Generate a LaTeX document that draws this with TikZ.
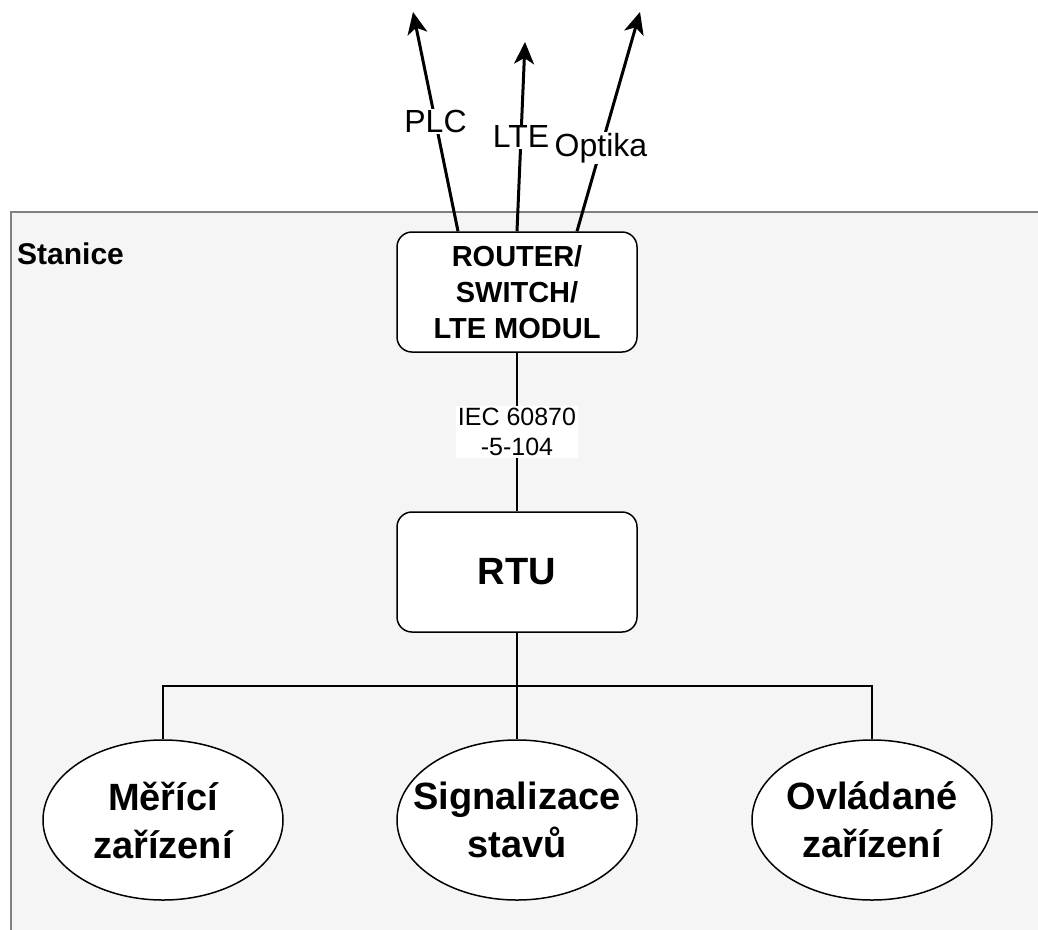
\documentclass[tikz,border=0pt]{standalone}
\usepackage{fontspec}
\setmainfont{Liberation Sans}
\usetikzlibrary{shapes.geometric,arrows.meta}

\begin{document}
\begin{tikzpicture}[x=1pt,y=-1pt,
  frame/.style={draw=black!50,line width=1.5pt,fill=black!4},
  roundbox/.style={draw=black,line width=1.5pt,fill=white,rounded corners=15pt,
    minimum width=240pt,minimum height=120pt,align=center,inner sep=0pt},
  device/.style={ellipse,draw=black,line width=1.5pt,fill=white,
    minimum width=240pt,minimum height=160pt,inner sep=0pt},
  devtext/.style={align=center,font=\bfseries\fontsize{38}{48}\selectfont,inner sep=0pt},
  link/.style={draw=black,line width=1.5pt},
  uplink/.style={draw=black,line width=3pt,-{Stealth[length=22pt,width=20pt,inset=6pt]}},
  linklabel/.style={fill=white,inner sep=1pt,font=\fontsize{32}{38}\selectfont},
  protolabel/.style={fill=white,inner sep=2pt,align=center,font=\fontsize{25}{30}\selectfont}]

\useasboundingbox (0,0) rectangle (1038,929);

% station area
\path[frame] (11,212) rectangle (1050,940);
\node[anchor=west,inner sep=0pt,font=\bfseries\fontsize{30}{36}\selectfont] (stanice) at (17,254) {Stanice};

% communication equipment and RTU
\node[roundbox,font=\bfseries\fontsize{29}{36}\selectfont] (router) at (517,292) {ROUTER/\\SWITCH/\\LTE MODUL};
\node[roundbox,font=\bfseries\fontsize{38}{44}\selectfont] (rtu) at (517,572) {RTU};

% field devices
\node[device,label={[devtext]center:Měřící\\zařízení}] (mer) at (163,820) {};
\node[device,label={[devtext]center:Signalizace\\stavů}] (sig) at (517,820) {};
\node[device,label={[devtext]center:Ovládané\\zařízení}] (ovl) at (872,820) {};

% outgoing links
\coordinate (plcEnd) at (413,12);
\coordinate (lteEnd) at (525,42);
\coordinate (optEnd) at (640,12);
\draw[uplink] ([xshift=-59pt]router.north) -- node[linklabel,pos=0.5] (plc) {PLC} (plcEnd);
\draw[uplink] (router.north) -- node[linklabel,pos=0.5] (lte) {LTE} (lteEnd);
\draw[uplink] ([xshift=60pt]router.north) -- node[linklabel,pos=0.38] (opt) {Optika} (optEnd);

% router to RTU
\draw[link] (router.south) -- node[protolabel] (iec) {IEC 60870\\-5-104} (rtu.north);

% RTU bus to devices
\coordinate (bus) at (517,686);
\draw[link] (rtu.south) -- (sig.north);
\draw[link] (bus) -| (mer.north);
\draw[link] (bus) -| (ovl.north);
\end{tikzpicture}
\end{document}
